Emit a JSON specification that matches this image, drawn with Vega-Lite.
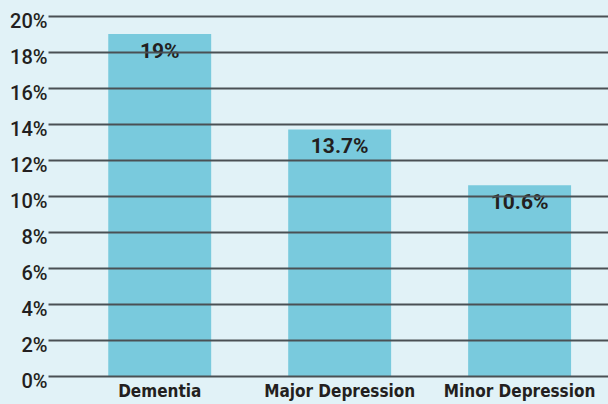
{
  "$schema": "https://vega.github.io/schema/vega-lite/v6.json",
  "width": 560,
  "height": 360,
  "autosize": {"type": "none"},
  "padding": {"left": 48, "top": 16, "right": 0, "bottom": 28},
  "background": "#e1f2f7",
  "config": {"view": {"stroke": null}},
  "data": {"values": [
    {"condition": "Dementia", "pct": 19, "label": "19%"},
    {"condition": "Major Depression", "pct": 13.7, "label": "13.7%"},
    {"condition": "Minor Depression", "pct": 10.6, "label": "10.6%"}
  ]},
  "encoding": {
    "x": {
      "field": "condition", "type": "nominal", "sort": null, "title": null,
      "scale": {"paddingInner": 0.428, "paddingOuter": 0.27, "align": 0.62},
      "axis": {"domain": false, "ticks": false, "labelAngle": 0, "labelPadding": 7,
               "labelFont": "'DejaVu Sans Condensed', Roboto, sans-serif", "labelFontWeight": "bold", "labelFontSize": 17,
               "labelColor": "#231f20"}
    },
    "y": {
      "field": "pct", "type": "quantitative", "title": null,
      "scale": {"domain": [0, 20], "nice": false},
      "axis": {"values": [0, 2, 4, 6, 8, 10, 12, 14, 16, 18, 20], "labelExpr": "datum.value + '%'",
               "domain": false, "ticks": false, "labelPadding": 1,
               "labelFont": "Roboto", "labelFontWeight": 500, "labelFontSize": 20, "labelColor": "#231f20",
               "labelBaseline": "alphabetic", "labelOffset": 11,
               "grid": true, "gridColor": "#4a5054", "gridWidth": 2, "gridOpacity": 1, "zindex": 1}
    }
  },
  "layer": [
    {"mark": {"type": "bar", "color": "#79cadd"}},
    {"mark": {"type": "text", "baseline": "alphabetic", "dy": 24, "font": "Roboto",
              "fontWeight": "bold", "fontSize": 21, "color": "#231f20"},
     "encoding": {"text": {"field": "label"}}}
  ]
}
